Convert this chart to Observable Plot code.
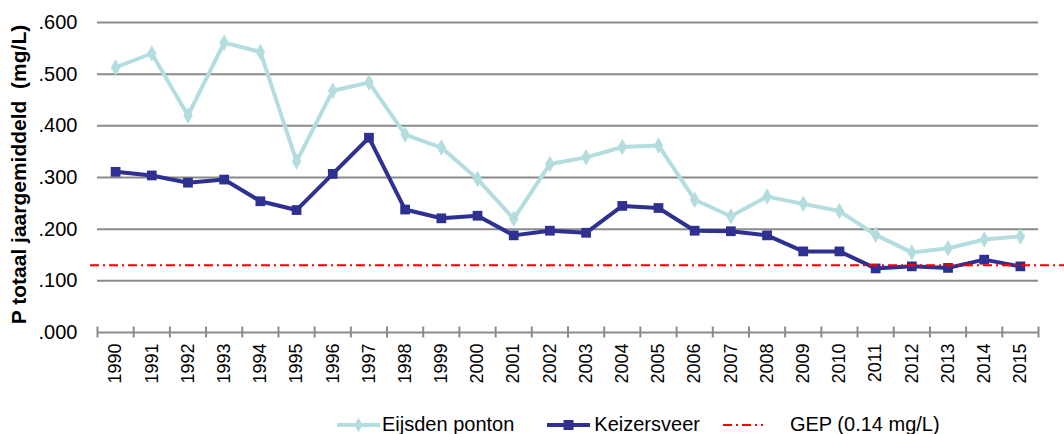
<!DOCTYPE html>
<html>
<head>
<meta charset="utf-8">
<script src="https://cdn.jsdelivr.net/npm/d3@7"></script>
<script src="https://cdn.jsdelivr.net/npm/@observablehq/plot@0.6"></script>
<style>
  body { margin: 0; background: #fff; font-family: "Liberation Sans", Arial, sans-serif; }
  #chart svg { display: block; }
  #legend { display: flex; align-items: center; height: 23px; padding-top: 13px; padding-left: 337px; font-size: 20px; color: #000; white-space: nowrap; }
  #legend .item { display: flex; align-items: center; }
  #legend svg { display: block; }
</style>
</head>
<body>
<div id="chart"></div>
<div id="legend"></div>
<script>
const years = [1990,1991,1992,1993,1994,1995,1996,1997,1998,1999,2000,2001,2002,2003,2004,2005,2006,2007,2008,2009,2010,2011,2012,2013,2014,2015];
const eijsden = [0.513,0.540,0.420,0.561,0.543,0.331,0.468,0.484,0.383,0.358,0.297,0.220,0.326,0.339,0.359,0.362,0.257,0.225,0.263,0.249,0.235,0.189,0.155,0.163,0.180,0.186];
const keizersveer = [0.311,0.304,0.290,0.296,0.254,0.237,0.307,0.377,0.238,0.221,0.226,0.188,0.197,0.193,0.245,0.241,0.197,0.196,0.188,0.157,0.157,0.124,0.128,0.125,0.141,0.128];
const gepValue = 0.13;
const yTicks = [0, 0.1, 0.2, 0.3, 0.4, 0.5, 0.6];
const seriesNames = ["Eijsden ponton", "Keizersveer", "GEP (0.14 mg/L)"];
const yTitle = "P totaal jaargemiddeld\u00a0 (mg/L)";

const colEijsden = "#b4dde0";
const colKeizers = "#2e3192";
const colGrid = "#8a8a8a";
const colGep = "#ff0000";

const eRows = years.map((year, i) => ({year, value: eijsden[i]}));
const kRows = years.map((year, i) => ({year, value: keizersveer[i]}));
const bounds = [...years.map(y => y - 0.5), years[years.length - 1] + 0.5];

const chart = Plot.plot({
  width: 1064,
  height: 400,
  marginTop: 22,
  marginBottom: 68,
  marginLeft: 97,
  marginRight: 26,
  style: {fontFamily: "'Liberation Sans', Arial, sans-serif", fontSize: "20px", color: "#000", background: "#fff"},
  x: {type: "linear", domain: [bounds[0], bounds[bounds.length - 1]]},
  y: {domain: [0, 0.6]},
  marks: [
    Plot.ruleY(yTicks, {stroke: colGrid, strokeWidth: 2}),
    Plot.axisY({ticks: yTicks, tickSize: 0, tickPadding: 20, fontSize: 20,
      tickFormat: d => d3.format(".3f")(d).replace(/^0/, ""), label: null}),
    Plot.axisX({ticks: bounds, tickSize: 11, dy: -5.5, tickFormat: () => "", stroke: colGrid, strokeWidth: 2, label: null}),
    Plot.axisX({ticks: years, tickSize: 0, tickPadding: 11, tickRotate: -90, fontSize: 18,
      tickFormat: d => String(d), label: null}),
    Plot.text([yTitle], {frameAnchor: "left", textAnchor: "middle", rotate: -90, dx: -78, dy: -3, fontWeight: "bold", fontSize: 21, lineAnchor: "middle"}),
    Plot.line(eRows, {x: "year", y: "value", stroke: colEijsden, strokeWidth: 4}),
    Plot.dot(eRows, {x: "year", y: "value", symbol: "diamond", r: 5, fill: colEijsden}),
    Plot.line(kRows, {x: "year", y: "value", stroke: colKeizers, strokeWidth: 4}),
    Plot.dot(kRows, {x: "year", y: "value", symbol: "square", r: 5.5, fill: colKeizers}),
    Plot.ruleY([gepValue], {stroke: colGep, strokeWidth: 2, strokeDasharray: "9,4,2,4", insetLeft: -7, insetRight: -26})
  ]
});
document.getElementById("chart").appendChild(chart);

// Legend
const legend = d3.select("#legend");
function addItem(name, drawMarker, svgWidth, marginLeft, textGap) {
  const item = legend.append("div").attr("class", "item").style("margin-left", marginLeft + "px");
  const svg = item.append("svg").attr("width", svgWidth).attr("height", 20);
  drawMarker(svg, svgWidth);
  item.append("span").style("margin-left", textGap + "px").text(name);
}
addItem(seriesNames[0], (svg, w) => {
  svg.append("line").attr("x1", 0).attr("x2", w).attr("y1", 10).attr("y2", 10).attr("stroke", colEijsden).attr("stroke-width", 4);
  svg.append("path").attr("d", d3.symbol(d3.symbolDiamond, 60)()).attr("transform", `translate(${w / 2},10)`).attr("fill", colEijsden);
}, 43, 0, 2);
addItem(seriesNames[1], (svg, w) => {
  svg.append("line").attr("x1", 0).attr("x2", w).attr("y1", 10).attr("y2", 10).attr("stroke", colKeizers).attr("stroke-width", 4);
  svg.append("rect").attr("x", w / 2 - 5).attr("y", 5).attr("width", 10).attr("height", 10).attr("fill", colKeizers);
}, 43, 33, 4);
addItem(seriesNames[2], (svg, w) => {
  svg.append("line").attr("x1", 0).attr("x2", w).attr("y1", 10).attr("y2", 10).attr("stroke", colGep).attr("stroke-width", 2).attr("stroke-dasharray", "9,4,2,4");
}, 40, 23, 27);
</script>
</body>
</html>
